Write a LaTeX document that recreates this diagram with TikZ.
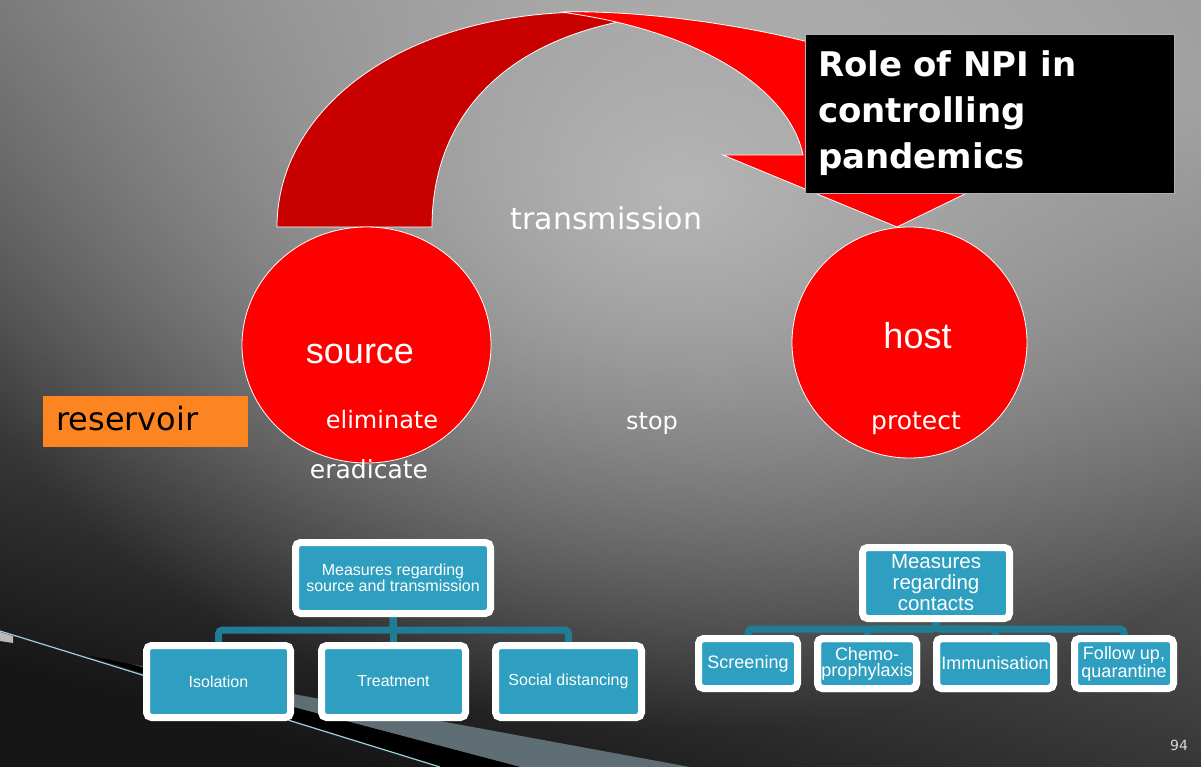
\documentclass[tikz,border=0pt]{standalone}
\usepackage{fontspec}
\setmainfont{DejaVu Sans}
\newfontfamily\arialf{Liberation Sans}
\usetikzlibrary{backgrounds,fadings,shapes.geometric,calc}
\pgfdeclarelayer{bg}
\pgfsetlayers{bg,background,main}
\definecolor{teal1}{HTML}{2E9FC0}
\definecolor{tealline}{HTML}{1F7D96}
\definecolor{darkred1}{HTML}{C80000}
\definecolor{red1}{HTML}{FF0000}
\definecolor{orange1}{HTML}{FD8521}
\definecolor{bgtop}{HTML}{999999}
\definecolor{bgbot}{HTML}{161616}
\definecolor{bgspot}{HTML}{B6B6B6}
\definecolor{stripe}{HTML}{5F6D75}
\definecolor{lineblue}{HTML}{9CCFE0}
\definecolor{pagenum}{HTML}{D8D8D8}
\tikzfading[name=spotfade, inner color=transparent!0, outer color=transparent!100]
\begin{document}
\begin{tikzpicture}[x=1pt,y=-1pt,
  circ/.style={ellipse, fill=red1, draw=white, line width=0.8pt, inner sep=0pt},
  wtext/.style={text=white, inner sep=0pt, anchor=base},
  titlebox/.style={fill=black, draw=gray!60, line width=0.6pt, minimum width=369pt, minimum height=159pt,
    text width=343pt, align=left, inner sep=0pt, text=white, font=\bfseries\fontsize{34}{46}\selectfont},
  mbox/.style={fill=teal1, draw=white, line width=7pt, rounded corners=5pt, inner sep=0pt, outer sep=0pt,
    text=white, align=center, font=\arialf\fontsize{16}{16}\selectfont},
  rbox/.style={mbox, minimum height=50pt, minimum width=99pt, font=\arialf\fontsize{18}{16}\selectfont},
  conn/.style={draw=tealline, line width=7pt, rounded corners=4pt},
  redge/.style={draw=white, line width=7pt, rounded corners=5pt}
]
\useasboundingbox (0,0) rectangle (1201,767);
% background
\begin{pgfonlayer}{bg}
  \shade[top color=bgtop, bottom color=bgbot, shading angle=-15] (0,0) rectangle (1201,767);
  \fill[bgspot, path fading=spotfade] (680,190) ellipse [x radius=760pt, y radius=540pt];
  \fill[stripe] (130,664) -- (690,767) -- (520,767) -- cycle;
  \fill[black] (85,655) -- (130,664) -- (520,767) -- (440,767) -- cycle;
  \draw[lineblue, line width=1.2pt] (0,631) -- (440,767);
  \fill[gray!55] (0,632) -- (13,636) -- (13,643) -- (0,641) -- cycle;
\end{pgfonlayer}

% curved arrow
\fill[darkred1, draw=white, line width=0.8pt] (277,227) .. controls (277,110) and (400,12) .. (590,12)
  -- (623,21) .. controls (500,45) and (432,120) .. (432,227) -- cycle;
\fill[red1, draw=white, line width=0.8pt] (560,12) .. controls (700,8) and (985,60) .. (985,155)
  -- (1045,155) -- (897,227) -- (723,155) -- (803,155)
  .. controls (790,90) and (700,30) .. (560,12) -- cycle;

% circles
\node[circ, minimum width=249pt, minimum height=236pt] (src) at (366.5,345) {};
\node[circ, minimum width=235pt, minimum height=231pt] (hst) at (909.5,342.5) {};

% title
\node[titlebox] (title) at (989.5,113.5) {Role of NPI in\\controlling\\pandemics};

% texts
\node[wtext, font=\arialf\fontsize{36}{40}\selectfont] (tsrc) at (360,363) {source};
\node[wtext, font=\arialf\fontsize{36}{40}\selectfont] (thost) at (917.5,348) {host};
\node[wtext, font=\fontsize{30}{34}\selectfont] (ttrans) at (606.5,230) {transmission};
\node[wtext, font=\fontsize{24}{28}\selectfont] (telim) at (382,428) {eliminate};
\node[wtext, font=\fontsize{24}{28}\selectfont] (tstop) at (652,429) {stop};
\node[wtext, font=\fontsize{25}{28}\selectfont] (tprot) at (916,429) {protect};
\node[wtext, font=\fontsize{25}{28}\selectfont] (terad) at (369,478) {eradicate};
\node[fill=orange1, minimum width=205pt, minimum height=51pt, inner sep=0pt] (res) at (145.5,421.5) {};
\node[anchor=base west, inner sep=0pt, text=black, font=\fontsize{32}{36}\selectfont] (tres) at (56,430) {reservoir};
\node[anchor=base, inner sep=0pt, text=pagenum, font=\fontsize{14}{16}\selectfont] (pg) at (1179,750) {94};

% left tree
\node[mbox, minimum width=195pt, minimum height=71pt] (m1) at (393,578) {Measures regarding\\source and transmission};
\node[mbox, minimum width=144pt, minimum height=72pt] (iso) at (218.5,681.5) {Isolation};
\node[mbox, minimum width=144pt, minimum height=72pt] (trt) at (393.5,681.5) {Treatment};
\node[mbox, minimum width=146pt, minimum height=72pt] (soc) at (568.5,681.5) {Social distancing};

% right tree
\node[mbox, font=\arialf\fontsize{20.5}{21}\selectfont, minimum width=147pt, minimum height=71pt] (m2) at (936,583) {Measures\\regarding\\contacts};
\node[rbox] (scr) at (748,663.5) {Screening};
\node[rbox] (che) at (867,663.5) {Chemo-\\prophylaxis};
\node[rbox, minimum width=117pt] (imm) at (995,663.5) {Immunisation};
\node[rbox] (fol) at (1124,663.5) {Follow up,\\quarantine};
\draw[redge] (che.north west) rectangle (che.south east);
\draw[redge] (imm.north west) rectangle (imm.south east);

% connectors
\begin{pgfonlayer}{background}
  \draw[conn] (m1.south) -- (m1.south |- trt.north);
  \draw[conn] (m1.south) -- ++(0,16.5) -| (iso.north);
  \draw[conn] (m1.south) -- ++(0,16.5) -| (soc.north);
  \draw[conn] (m2.south) -- ++(0,10.5) -| (scr.north);
  \draw[conn] (m2.south) -- ++(0,10.5) -| (che.north);
  \draw[conn] (m2.south) -- ++(0,10.5) -| (imm.north);
  \draw[conn] (m2.south) -- ++(0,10.5) -| (fol.north);
\end{pgfonlayer}
\end{tikzpicture}
\end{document}
